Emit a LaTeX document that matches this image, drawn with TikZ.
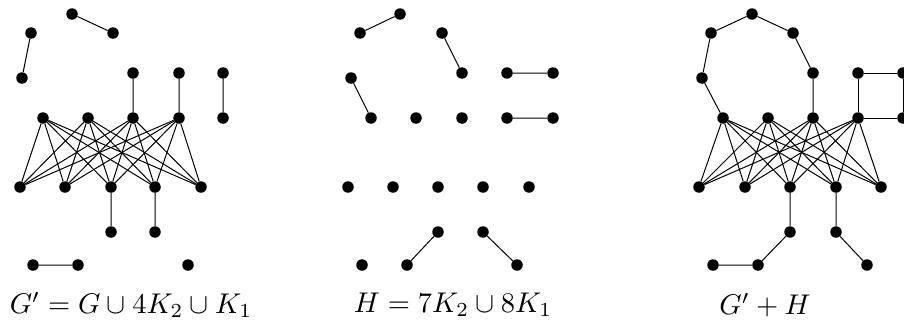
\documentclass[tikz,border=0pt]{standalone}
\begin{document}
\begin{tikzpicture}[x=1pt,y=-1pt,
  dot/.style={circle,fill=black,inner sep=0pt,minimum size=11.5pt},
  edge/.style={line width=1pt},
  lbl/.style={inner sep=0pt}]
\clip (0,0) rectangle (904,324);
% ---------- Panel 1 ----------
\foreach \n/\x/\y in {a1/72/14,a2/113/33,a3/31/33,a4/22/78,
  t1/133/73,t2/179/73,t3/223/73,
  u1/43/118,u2/88/118,u3/133/118,u4/179/118,u5/223/118,
  v1/20/187,v2/65/187,v3/111/187,v4/155/187,v5/201/187,
  w1/111/232,w2/155/232,z1/33/265,z2/78/265,z3/188/265}
  \node[dot] (\n) at (\x,\y) {};
\foreach \i in {1,...,4}\foreach \j in {1,...,5}\draw[edge] (u\i)--(v\j);
\draw[edge] (a1)--(a2) (a3)--(a4) (t1)--(u3) (t2)--(u4) (t3)--(u5)
  (v3)--(w1) (v4)--(w2) (z1)--(z2);
\node[lbl] (L1) at (131,305) {\scalebox{2.85}{$G' = G \cup 4K_2 \cup K_1$}};
% ---------- Panel 2 ----------
\foreach \n/\x/\y in {b1/400/14,b2/360/33,b3/442/33,b4/462/73,b5/507/73,b6/553/73,
  b7/351/78,b8/371/118,b9/416/118,b10/462/118,b11/507/118,b12/553/118,
  b13/348/187,b14/393/187,b15/438/187,b16/483/187,b17/529/187,
  b18/438/232,b19/483/232,b20/362/265,b21/407/265,b22/517/265}
  \node[dot] (\n) at (\x,\y) {};
\draw[edge] (b1)--(b2) (b3)--(b4) (b5)--(b6) (b7)--(b8) (b11)--(b12)
  (b18)--(b21) (b19)--(b22);
\node[lbl] (L2) at (453,305) {\scalebox{2.85}{$H = 7K_2 \cup 8K_1$}};
% ---------- Panel 3 ----------
\foreach \n/\x/\y in {c1/752/14,c2/711/33,c3/793/33,c4/702/78,c5/813/73,
  s1/858/73,s2/903/73,s3/903/118,
  p1/723/118,p2/768/118,p3/813/118,p4/858/118,
  q1/699/187,q2/745/187,q3/790/187,q4/836/187,q5/881/187,
  r1/790/232,r2/836/232,r3/713/265,r4/758/265,r5/867/265}
  \node[dot] (\n) at (\x,\y) {};
\foreach \i in {1,...,4}\foreach \j in {1,...,5}\draw[edge] (p\i)--(q\j);
\draw[edge] (p1)--(c4)--(c2)--(c1)--(c3)--(c5)--(p3);
\draw[edge] (s1)--(s2)--(s3)--(p4)--(s1);
\draw[edge] (q3)--(r1)--(r4)--(r3) (q4)--(r2)--(r5);
\node[lbl] (L3) at (765,305) {\scalebox{2.85}{$G' + H$}};
\end{tikzpicture}
\end{document}
